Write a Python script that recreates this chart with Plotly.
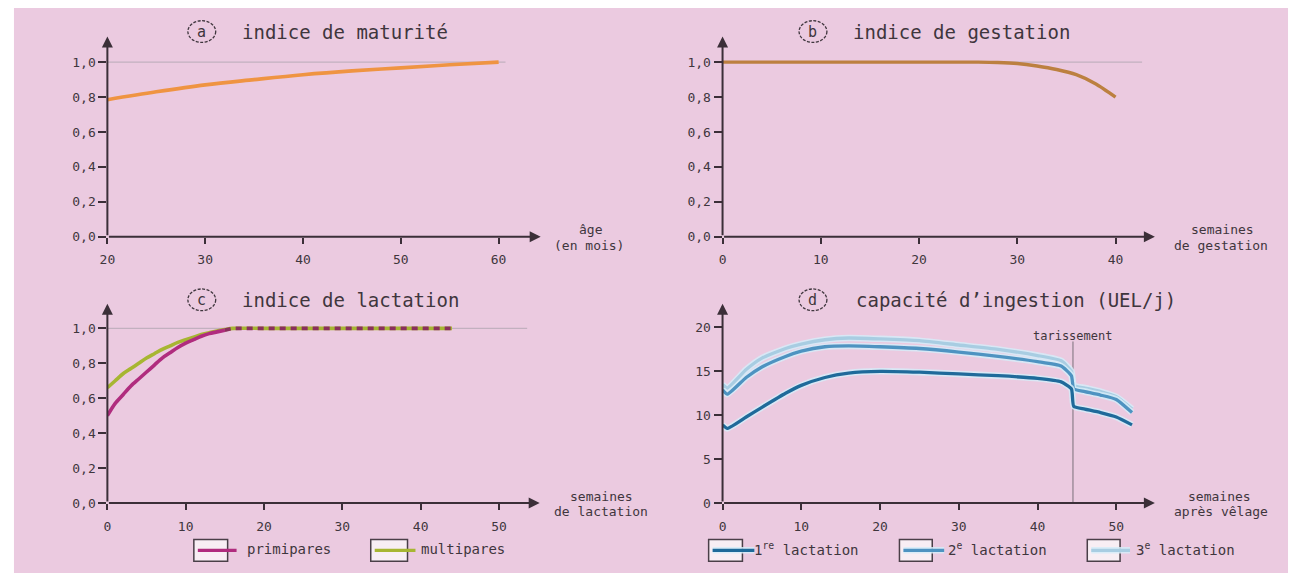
import plotly.graph_objects as go

W, H = 1293, 581

# (a) indice de maturité
age_months = [20, 25, 30, 35, 40, 45, 50, 55, 60]
maturity_index = [0.785, 0.83, 0.87, 0.90, 0.928, 0.95, 0.967, 0.985, 1.0]

# (b) indice de gestation
gestation_weeks = [0, 10, 20, 26, 28, 30, 32, 34, 36, 38, 40]
gestation_index = [1.0, 1.0, 1.0, 1.0, 0.998, 0.992, 0.978, 0.958, 0.928, 0.875, 0.80]

# (c) indice de lactation
lactation_weeks = [0, 1, 2, 3, 4, 5, 6, 7, 8, 9, 10, 11, 12, 13, 14, 15, 16, 20, 25, 30, 35, 40, 44]
primipares = [0.50, 0.57, 0.62, 0.67, 0.71, 0.75, 0.79, 0.83, 0.86, 0.89, 0.915, 0.935, 0.955,
              0.97, 0.98, 0.99, 1.0, 1.0, 1.0, 1.0, 1.0, 1.0, 1.0]
multipares = [0.66, 0.70, 0.74, 0.77, 0.80, 0.83, 0.855, 0.88, 0.90, 0.92, 0.935, 0.95, 0.965,
              0.975, 0.985, 0.993, 1.0, 1.0, 1.0, 1.0, 1.0, 1.0, 1.0]

# (d) capacité d'ingestion (UEL/j)
calving_weeks = [0, 0.6, 3, 5, 8, 10, 13, 16, 20, 25, 30, 35, 40, 43, 44.3, 44.6, 46, 48, 50, 52]
lactation_1 = [8.9, 8.5, 9.8, 10.9, 12.5, 13.4, 14.3, 14.8, 15.0, 14.9, 14.7, 14.5, 14.2, 13.8,
               13.0, 11.0, 10.7, 10.3, 9.8, 8.9]
lactation_2 = [12.9, 12.4, 14.3, 15.5, 16.7, 17.3, 17.8, 17.9, 17.8, 17.6, 17.2, 16.7, 16.1, 15.6,
               14.5, 13.0, 12.7, 12.3, 11.8, 10.3]
lactation_3 = [13.5, 13.1, 15.2, 16.5, 17.6, 18.1, 18.6, 18.8, 18.7, 18.5, 18.0, 17.5, 16.8, 16.2,
               15.0, 13.4, 13.1, 12.7, 12.1, 10.7]
drying_off_week = 44.5

ratio_ticks = [0, 0.2, 0.4, 0.6, 0.8, 1.0]
ingestion_ticks = [0, 5, 10, 15, 20]

BG = "#EBCAE0"
AXIS = "#3b2f38"
TEXT = "#3f363d"
REF = "#c2b0bf"
MONO = "DejaVu Sans Mono"
NBSP = "\u00a0"


def px(x):
    return x / W


def py(y):
    return 1 - y / H


fig = go.Figure()

# panel geometry in pixels: (left, right), (bottom, top), x range, y range, ticks
panels = {
    "1": dict(xp=(100, 536), yp=(240, 37), xr=[20, 64.3], yr=[0, 1.147],
              xt=[20, 30, 40, 50, 60], yt=ratio_ticks, yfmt=".1f"),
    "2": dict(xp=(719, 1154), yp=(240, 37), xr=[0, 44.0], yr=[0, 1.147],
              xt=[0, 10, 20, 30, 40], yt=ratio_ticks, yfmt=".1f"),
    "3": dict(xp=(100, 535), yp=(510, 308), xr=[0, 55.2], yr=[0, 1.141],
              xt=[0, 10, 20, 30, 40, 50], yt=ratio_ticks, yfmt=".1f"),
    "4": dict(xp=(719, 1154), yp=(510, 308), xr=[0, 54.9], yr=[0, 22.7],
              xt=[0, 10, 20, 30, 40, 50], yt=ingestion_ticks, yfmt="d"),
}

layout_axes = {}
annotations = []
shapes = []

# page background with thin white border
shapes.append(dict(type="rect", xref="paper", yref="paper", x0=px(6), x1=px(1288),
                   y0=0, y1=py(8), fillcolor=BG, line=dict(width=0), layer="below"))

for k, p in panels.items():
    xname = "xaxis" if k == "1" else f"xaxis{k}"
    yname = "yaxis" if k == "1" else f"yaxis{k}"
    xref = "x" if k == "1" else f"x{k}"
    yref = "y" if k == "1" else f"y{k}"
    tickfont = dict(family=MONO, size=13, color=TEXT)
    layout_axes[xname] = dict(
        domain=[px(p["xp"][0]), px(p["xp"][1])], range=p["xr"], anchor=yref,
        tickvals=p["xt"], ticks="outside", ticklen=6, tickwidth=1.5, tickcolor=AXIS,
        showgrid=False, zeroline=False, showline=False, tickfont=tickfont,
        ticklabelstandoff=5, fixedrange=True)
    layout_axes[yname] = dict(
        domain=[py(p["yp"][0]), py(p["yp"][1])], range=p["yr"], anchor=xref,
        tickvals=p["yt"], tickformat=p["yfmt"], ticksuffix=NBSP * 2,
        ticks="outside", ticklen=8, tickwidth=1.5,
        tickcolor=AXIS, showgrid=False, zeroline=False, showline=False, tickfont=tickfont,
        fixedrange=True)
    # axis lines ending in arrowheads
    x0, y0 = p["xr"][0], p["yr"][0]
    annotations.append(dict(xref=xref, yref=yref, axref=xref, ayref=yref,
                            x=p["xr"][1], y=y0, ax=x0, ay=y0, text="", showarrow=True,
                            arrowhead=2, arrowsize=1.1, arrowwidth=2, arrowcolor=AXIS))
    annotations.append(dict(xref=xref, yref=yref, axref=xref, ayref=yref,
                            x=x0, y=p["yr"][1], ax=x0, ay=y0, text="", showarrow=True,
                            arrowhead=2, arrowsize=1.1, arrowwidth=2, arrowcolor=AXIS))

fig.update_layout(**layout_axes)

# reference lines at index 1,0
for xref, yref, start, xend in [("x", "y", 20, 60.7), ("x2", "y2", 0, 42.7), ("x3", "y3", 0, 53.6)]:
    shapes.append(dict(type="line", xref=xref, yref=yref, x0=start, x1=xend, y0=1.0, y1=1.0,
                       line=dict(color=REF, width=1.2), layer="below"))

# (a)
fig.add_trace(go.Scatter(x=age_months, y=maturity_index, mode="lines", xaxis="x", yaxis="y",
                         line=dict(color="#EF9442", width=3.6, shape="spline")))
# (b)
fig.add_trace(go.Scatter(x=gestation_weeks, y=gestation_index, mode="lines", xaxis="x2", yaxis="y2",
                         line=dict(color="#BC8040", width=3.4, shape="spline", smoothing=0.6)))
# (c)
PRIMI = "#B02C7E"
MULTI = "#A7B632"
fig.add_trace(go.Scatter(x=lactation_weeks, y=multipares, mode="lines", xaxis="x3", yaxis="y3",
                         line=dict(color=MULTI, width=3.6, shape="spline", smoothing=0.8)))
split = lactation_weeks.index(15)
fig.add_trace(go.Scatter(x=lactation_weeks[:split + 1], y=primipares[:split + 1], mode="lines",
                         xaxis="x3", yaxis="y3",
                         line=dict(color=PRIMI, width=3.6, shape="spline", smoothing=0.8)))
fig.add_trace(go.Scatter(x=lactation_weeks[split:], y=primipares[split:], mode="lines",
                         xaxis="x3", yaxis="y3",
                         line=dict(color="#8a2f5e", width=3.6, dash="6px,5px")))

# (d)
L1, L2, L3 = "#1F6A9A", "#4E93C1", "#A8CDE2"
HALO = "rgba(214,236,248,0.85)"
for series, col in [(lactation_3, L3), (lactation_2, L2), (lactation_1, L1)]:
    fig.add_trace(go.Scatter(x=calving_weeks, y=series, mode="lines", xaxis="x4", yaxis="y4",
                             line=dict(color=HALO, width=6.5, shape="spline", smoothing=0.5),
                             hoverinfo="skip"))
    fig.add_trace(go.Scatter(x=calving_weeks, y=series, mode="lines", xaxis="x4", yaxis="y4",
                             line=dict(color=col, width=3.3, shape="spline", smoothing=0.5)))

shapes.append(dict(type="line", xref="x4", yref="y4", x0=drying_off_week, x1=drying_off_week,
                   y0=0, y1=18.4, line=dict(color="#8c7f8a", width=1.2), layer="below"))
annotations.append(dict(xref="x4", yref="y4", x=drying_off_week, y=19.0, text="tarissement",
                        showarrow=False, font=dict(family=MONO, size=12, color=TEXT),
                        xanchor="center", yanchor="middle"))

# panel titles with circled letters
titles = [("a", "indice de maturité", 195, 32, 233),
          ("b", "indice de gestation", 810, 32, 848),
          ("c", "indice de lactation", 195, 304, 233),
          ("d", "capacité d’ingestion (UEL/j)", 810, 304, 851)]
for letter, label, cx, cy, tx in titles:
    shapes.append(dict(type="circle", xref="paper", yref="paper",
                       x0=px(cx - 14), x1=px(cx + 14), y0=py(cy + 11), y1=py(cy - 11),
                       line=dict(color=TEXT, width=1.3, dash="3px,1.5px")))
    annotations.append(dict(xref="paper", yref="paper", x=px(cx), y=py(cy), text=letter,
                            showarrow=False, font=dict(family=MONO, size=15, color=TEXT),
                            xanchor="center", yanchor="middle"))
    annotations.append(dict(xref="paper", yref="paper", x=px(tx), y=py(cy), text=label,
                            showarrow=False, font=dict(family=MONO, size=19, color=TEXT),
                            xanchor="left", yanchor="middle"))

# axis titles
axis_titles = [("âge", 587, 233), ("(en mois)", 585, 249),
               ("semaines", 1222, 233), ("de gestation", 1221, 249),
               ("semaines", 597, 503), ("de lactation", 597, 519),
               ("semaines", 1219, 503), ("après vêlage", 1221, 519)]
for txt, x, y in axis_titles:
    annotations.append(dict(xref="paper", yref="paper", x=px(x), y=py(y), text=txt,
                            showarrow=False, font=dict(family=MONO, size=13, color=TEXT),
                            xanchor="center", yanchor="middle"))

# legends drawn as boxed line samples
legend_items = [("primipares", PRIMI, None, 187, 221, 230, 238),
                ("multipares", MULTI, None, 365, 402, 410, 414),
                ("1<sup>re</sup> lactation", L1, HALO, 705, 739, 751, 749),
                ("2<sup>e</sup> lactation", L2, HALO, 897, 930, 942, 944),
                ("3<sup>e</sup> lactation", L3, HALO, 1086, 1119, 1129, 1133)]
for label, col, halo, bx0, bx1, lx1, tx in legend_items:
    shapes.append(dict(type="rect", xref="paper", yref="paper", x0=px(bx0), x1=px(bx1),
                       y0=py(569), y1=py(547), fillcolor="#f8eef4",
                       line=dict(color="#4a3f48", width=1.5)))
    if halo:
        shapes.append(dict(type="line", xref="paper", yref="paper", x0=px(bx0 + 4), x1=px(lx1),
                           y0=py(558), y1=py(558), line=dict(color=halo, width=6.5)))
    shapes.append(dict(type="line", xref="paper", yref="paper", x0=px(bx0 + 4), x1=px(lx1),
                       y0=py(558), y1=py(558), line=dict(color=col, width=3.2)))
    annotations.append(dict(xref="paper", yref="paper", x=px(tx), y=py(557), text=label,
                            showarrow=False, font=dict(family=MONO, size=14, color=TEXT),
                            xanchor="left", yanchor="middle"))

fig.update_layout(width=W, height=H, margin=dict(l=0, r=0, t=0, b=0),
                  paper_bgcolor="white", plot_bgcolor="rgba(0,0,0,0)",
                  showlegend=False, separators=", ",
                  shapes=shapes, annotations=annotations)

fig.write_html("out.html", config={"displayModeBar": False})
